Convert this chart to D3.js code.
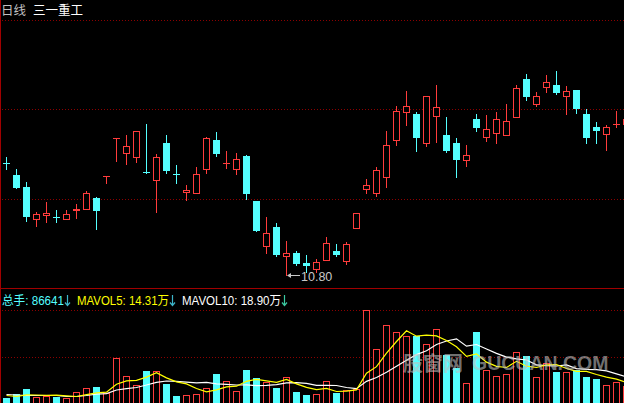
<!DOCTYPE html>
<html>
<head>
<meta charset="utf-8">
<script src="https://d3js.org/d3.v7.min.js"></script>
<style>
  html, body { margin: 0; padding: 0; background: #000; overflow: hidden; }
  svg { display: block; }
</style>
</head>
<body>
<div id="kline"></div>
<script>
// frame size
const FRAME_WIDTH = 624;
const FRAME_HEIGHT = 403;

// texts
const TITLE_PERIOD = "日线";
const TITLE_NAME = "三一重工";
const LOW_LABEL = "10.80";
const VOL_LABEL = "总手: 86641";
const MA5_LABEL = "MAVOL5: 14.31万";
const MA10_LABEL = "MAVOL10: 18.90万";

// daily prices (yuan), one entry per trading day
const OPEN = [12.48, 12.30, 12.12, 11.64, 11.70, 11.67, 11.64, 11.77, 11.79, 11.96,
              12.29, 12.86, 12.63, 12.57, 12.34, 12.23, 12.78, 12.32, 12.05, 12.03,
              12.39, 12.83, 12.48, 12.39, 12.59, 11.91, 11.24, 11.52, 11.09, 11.13,
              10.98, 10.89, 11.03, 11.16, 11.01, 11.51, 12.09, 12.03, 12.27, 12.83,
              13.25, 13.22, 12.78, 13.19, 12.90, 12.78, 12.53, 13.14, 12.87, 12.93,
              12.90, 13.17, 13.74, 13.37, 13.62, 13.65, 13.49, 13.58, 13.22, 13.02,
              12.92, 13.07, 13.07];
const HIGH = [12.57, 12.39, 12.20, 11.75, 11.90, 11.78, 11.78, 11.87, 12.06, 11.97,
              12.29, 12.86, 12.90, 12.96, 13.07, 12.62, 12.90, 12.45, 12.15, 12.42,
              12.87, 12.95, 12.66, 12.63, 12.60, 11.91, 11.67, 11.58, 11.31, 11.16,
              11.10, 11.04, 11.37, 11.27, 11.30, 11.73, 12.24, 12.42, 12.96, 13.34,
              13.56, 13.25, 13.49, 13.65, 13.17, 12.86, 12.75, 13.22, 13.20, 13.25,
              13.37, 13.65, 13.82, 13.55, 13.80, 13.86, 13.64, 13.58, 13.29, 13.10,
              13.05, 13.26, 13.14];
const LOW = [12.39, 12.11, 11.61, 11.54, 11.60, 11.60, 11.64, 11.66, 11.79, 11.49,
             12.18, 12.51, 12.47, 12.50, 12.33, 11.75, 12.33, 12.18, 11.93, 12.03,
             12.33, 12.59, 12.41, 12.32, 11.94, 11.46, 11.13, 11.09, 10.80, 10.95,
             10.85, 10.85, 11.03, 11.09, 10.97, 11.51, 12.03, 11.99, 12.12, 12.75,
             13.05, 12.66, 12.74, 12.80, 12.65, 12.27, 12.44, 12.96, 12.81, 12.78,
             12.90, 13.17, 13.43, 13.34, 13.55, 13.52, 13.22, 13.23, 12.78, 12.78,
             12.68, 13.02, 13.07];
const CLOSE = [12.47, 12.11, 11.67, 11.72, 11.73, 11.65, 11.72, 11.79, 12.03, 11.76,
               12.29, 12.86, 12.74, 12.96, 12.33, 12.57, 12.36, 12.31, 12.08, 12.32,
               12.86, 12.62, 12.48, 12.54, 12.02, 11.46, 11.43, 11.10, 11.13, 10.97,
               10.94, 11.00, 11.28, 11.10, 11.27, 11.73, 12.15, 12.38, 12.75, 13.26,
               13.34, 12.86, 13.49, 13.32, 12.66, 12.53, 12.60, 13.01, 12.99, 13.14,
               13.11, 13.61, 13.47, 13.49, 13.70, 13.53, 13.56, 13.29, 12.86, 12.96,
               13.02, 13.07, 13.14];

// volume (10k lots) and its 5 / 10 day averages
const VOLUME = [3.0, 5.4, 8.4, 3.6, 4.2, 3.6, 3.0, 6.6, 9.0, 9.6,
                6.0, 27.0, 16.2, 10.8, 19.2, 19.2, 11.4, 4.2, 4.8, 5.4,
                9.0, 17.4, 13.2, 7.2, 19.8, 15.0, 12.6, 9.0, 15.6, 6.6,
                4.8, 5.4, 13.2, 6.0, 7.8, 8.4, 55.8, 32.4, 46.8, 42.6,
                40.2, 40.2, 35.4, 44.4, 28.8, 21.0, 12.0, 42.6, 19.8, 16.2,
                17.4, 30.6, 28.2, 15.6, 24.0, 18.6, 18.6, 19.8, 15.6, 14.4,
                10.8, 12.6, 10.2];
const MAVOL5 = [4.8, 4.2, 5.2, 5.1, 4.9, 5.0, 4.6, 4.2, 5.3, 6.4,
                6.8, 11.6, 13.6, 13.9, 15.8, 18.5, 15.4, 13.0, 11.8, 9.0,
                7.0, 8.2, 10.0, 10.4, 13.3, 14.5, 13.6, 12.7, 14.4, 11.8,
                9.7, 8.3, 9.1, 7.2, 7.4, 8.2, 18.2, 22.1, 30.2, 37.2,
                43.6, 40.4, 41.0, 40.6, 37.8, 34.0, 28.3, 29.8, 24.8, 22.3,
                21.6, 25.3, 22.4, 21.6, 23.2, 23.4, 21.0, 19.3, 19.3, 17.4,
                15.8, 14.6, 12.7];
const MAVOL10 = [5.4, 5.1, 4.8, 4.8, 4.8, 4.8, 4.2, 4.2, 4.8, 5.6,
                 5.9, 8.1, 8.9, 9.6, 11.1, 12.7, 13.5, 13.3, 12.8, 12.4,
                 12.7, 11.8, 11.5, 11.1, 11.2, 10.7, 10.9, 11.3, 12.4, 12.5,
                 12.1, 10.9, 10.9, 10.8, 9.6, 8.9, 13.3, 15.6, 18.7, 22.3,
                 25.9, 29.3, 31.6, 35.4, 37.5, 38.8, 34.4, 35.4, 32.7, 30.1,
                 27.8, 26.8, 26.1, 23.2, 22.7, 22.5, 23.2, 20.9, 20.5, 20.3,
                 19.6, 17.8, 16.0];

// colours
const UP = "#ff3c3c";
const DOWN = "#54ffff";
const GRID = "#8c0000";
const BORDER = "#a00000";

// panel layout
const PRICE_TOP = 20;
const PRICE_BOTTOM = 289;
const VOL_TOP = 310;
const VOL_BOTTOM = 403;

const DAYS = d3.range(OPEN.length);

const FRAME = d3.select("#kline")
                .append("svg")
                    .attr("width", FRAME_WIDTH)
                    .attr("height", FRAME_HEIGHT)
                    .style("background", "#000")
                    .attr("font-family", "'Liberation Sans', Arial, 'Noto Sans CJK SC', sans-serif");

// x: one slot every 10px
const X_SCALE = d3.scaleLinear()
                    .domain([0, DAYS.length - 1])
                    .range([6, 6 + 10 * (DAYS.length - 1)]);

// price scale
const Y_PRICE = d3.scaleLinear()
                    .domain([10.59, 14.625])
                    .range([PRICE_BOTTOM, PRICE_TOP]);

// volume scale, top grid line is the biggest day
const MAX_VOL = d3.max(VOLUME);
const Y_VOL = d3.scaleLinear()
                .domain([0, MAX_VOL])
                .range([VOL_BOTTOM, VOL_TOP]);

const px = (v) => Math.round(v) + 0.5;

// dotted grid lines
FRAME.selectAll(".grid")
        .data([20, 109, 199, Y_VOL(MAX_VOL / 2), Y_VOL(MAX_VOL)])
        .enter()
        .append("line")
            .attr("class", "grid")
            .attr("x1", 2)
            .attr("x2", FRAME_WIDTH)
            .attr("y1", (d) => {return px(d);})
            .attr("y2", (d) => {return px(d);})
            .attr("stroke", GRID)
            .attr("stroke-dasharray", "1,2");

// panel borders
FRAME.append("line")
        .attr("x1", 0).attr("x2", FRAME_WIDTH)
        .attr("y1", 288.5).attr("y2", 288.5)
        .attr("stroke", BORDER);
FRAME.append("line")
        .attr("x1", 0.5).attr("x2", 0.5)
        .attr("y1", 0).attr("y2", FRAME_HEIGHT)
        .attr("stroke", BORDER);

// candles
const CANDLES = FRAME.append("g").attr("shape-rendering", "crispEdges");

CANDLES.selectAll(".wick")
        .data(DAYS)
        .enter()
        .append("line")
            .attr("class", "wick")
            .attr("x1", (d) => {return X_SCALE(d) + 0.5;})
            .attr("x2", (d) => {return X_SCALE(d) + 0.5;})
            .attr("y1", (d) => {return Math.round(Y_PRICE(HIGH[d]));})
            .attr("y2", (d) => {return Math.round(Y_PRICE(LOW[d])) + 1;})
            .attr("stroke", (d) => {return CLOSE[d] >= OPEN[d] ? UP : DOWN;});

// falling days: filled body
CANDLES.selectAll(".down")
        .data(DAYS.filter((d) => {return CLOSE[d] < OPEN[d];}))
        .enter()
        .append("rect")
            .attr("class", "down")
            .attr("x", (d) => {return X_SCALE(d) - 3;})
            .attr("y", (d) => {return Math.round(Y_PRICE(OPEN[d]));})
            .attr("width", 7)
            .attr("height", (d) => {return Math.max(1, Math.round(Y_PRICE(CLOSE[d])) - Math.round(Y_PRICE(OPEN[d])));})
            .attr("fill", DOWN);

// rising days: hollow body
CANDLES.selectAll(".up")
        .data(DAYS.filter((d) => {return CLOSE[d] > OPEN[d];}))
        .enter()
        .append("rect")
            .attr("class", "up")
            .attr("x", (d) => {return X_SCALE(d) - 2.5;})
            .attr("y", (d) => {return px(Y_PRICE(CLOSE[d]));})
            .attr("width", 6)
            .attr("height", (d) => {return Math.max(1, Math.round(Y_PRICE(OPEN[d])) - Math.round(Y_PRICE(CLOSE[d])));})
            .attr("fill", "#000")
            .attr("stroke", UP);

// flat days: a dash
CANDLES.selectAll(".flat")
        .data(DAYS.filter((d) => {return CLOSE[d] == OPEN[d];}))
        .enter()
        .append("line")
            .attr("class", "flat")
            .attr("x1", (d) => {return X_SCALE(d) - 3;})
            .attr("x2", (d) => {return X_SCALE(d) + 4;})
            .attr("y1", (d) => {return px(Y_PRICE(CLOSE[d]));})
            .attr("y2", (d) => {return px(Y_PRICE(CLOSE[d]));})
            .attr("stroke", UP);

// lowest price marker
const LOW_DAY = d3.minIndex(LOW);
const LOW_Y = px(Y_PRICE(LOW[LOW_DAY]));
const LOW_X = X_SCALE(LOW_DAY) + 1;
FRAME.append("line")
        .attr("x1", LOW_X + 1).attr("x2", LOW_X + 13)
        .attr("y1", LOW_Y).attr("y2", LOW_Y)
        .attr("stroke", "#c8c8c8");
FRAME.append("path")
        .attr("d", "M" + (LOW_X) + "," + LOW_Y + "l4,-2.5v5z")
        .attr("fill", "#c8c8c8");
FRAME.append("text")
        .attr("x", LOW_X + 14)
        .attr("y", LOW_Y + 5)
        .attr("font-size", "12.5px")
        .attr("fill", "#c8c8c8")
        .text(LOW_LABEL);

// volume bars
const BARS = FRAME.append("g").attr("shape-rendering", "crispEdges");

BARS.selectAll(".vdown")
        .data(DAYS.filter((d) => {return CLOSE[d] < OPEN[d];}))
        .enter()
        .append("rect")
            .attr("x", (d) => {return X_SCALE(d) - 3;})
            .attr("y", (d) => {return Math.round(Y_VOL(VOLUME[d]));})
            .attr("width", 7)
            .attr("height", (d) => {return VOL_BOTTOM - Math.round(Y_VOL(VOLUME[d])) + 2;})
            .attr("fill", DOWN);

BARS.selectAll(".vup")
        .data(DAYS.filter((d) => {return CLOSE[d] >= OPEN[d];}))
        .enter()
        .append("rect")
            .attr("x", (d) => {return X_SCALE(d) - 2.5;})
            .attr("y", (d) => {return px(Y_VOL(VOLUME[d]));})
            .attr("width", 6)
            .attr("height", (d) => {return VOL_BOTTOM - Math.round(Y_VOL(VOLUME[d])) + 2;})
            .attr("fill", "#000")
            .attr("stroke", UP);

// volume moving averages
const MA_LINE = (values) => {
    return d3.line()
                .x((d) => {return X_SCALE(d) + 0.5;})
                .y((d) => {return Y_VOL(values[d]) + 0.5;})(DAYS);
};
FRAME.append("path")
        .attr("d", MA_LINE(MAVOL10))
        .attr("fill", "none")
        .attr("stroke", "#ffffff")
        .attr("stroke-width", 1.2);
FRAME.append("path")
        .attr("d", MA_LINE(MAVOL5))
        .attr("fill", "none")
        .attr("stroke", "#ffff00")
        .attr("stroke-width", 1.2);

// watermark
FRAME.append("text")
        .attr("x", 403)
        .attr("y", 371)
        .attr("font-size", "20px")
        .attr("font-weight", "bold")
        .attr("fill", "rgba(190,190,190,0.6)")
        .text("股窗网");
FRAME.append("text")
        .attr("x", 472)
        .attr("y", 370)
        .attr("font-size", "19.5px")
        .attr("font-weight", "bold")
        .attr("fill", "rgba(190,190,190,0.6)")
        .text("GUCUAN.COM");

// title
FRAME.append("text")
        .attr("x", 1).attr("y", 15)
        .attr("font-size", "12.5px")
        .attr("fill", "#c0c0c0")
        .text(TITLE_PERIOD);
FRAME.append("text")
        .attr("x", 33).attr("y", 15)
        .attr("font-size", "12.5px")
        .attr("fill", "#ffffff")
        .text(TITLE_NAME);

// volume header: label, then a small down arrow
const HEADER = [
    {x: 2, w: 62, text: VOL_LABEL, color: DOWN, arrow: "#3cb4c8"},
    {x: 77, w: 92, text: MA5_LABEL, color: "#ffff00", arrow: "#3cb4c8"},
    {x: 182, w: 99, text: MA10_LABEL, color: "#ffffff", arrow: "#3cc8a0"}
];
FRAME.selectAll(".header")
        .data(HEADER)
        .enter()
        .append("text")
            .attr("class", "header")
            .attr("x", (d) => {return d.x;})
            .attr("y", 305)
            .attr("font-size", "12px")
            .attr("textLength", (d) => {return d.w;})
            .attr("lengthAdjust", "spacingAndGlyphs")
            .attr("fill", (d) => {return d.color;})
            .text((d) => {return d.text;});

FRAME.selectAll(".arrow")
        .data(HEADER)
        .enter()
        .append("path")
            .attr("class", "arrow")
            .attr("d", (d) => {
                const ax = d.x + d.w + 3.5;
                return "M" + ax + ",295V305M" + (ax - 2.5) + ",302.5L" + ax + ",305.5L" + (ax + 2.5) + ",302.5";
            })
            .attr("fill", "none")
            .attr("stroke", (d) => {return d.arrow;})
            .attr("stroke-width", 1.2);
</script>
</body>
</html>
